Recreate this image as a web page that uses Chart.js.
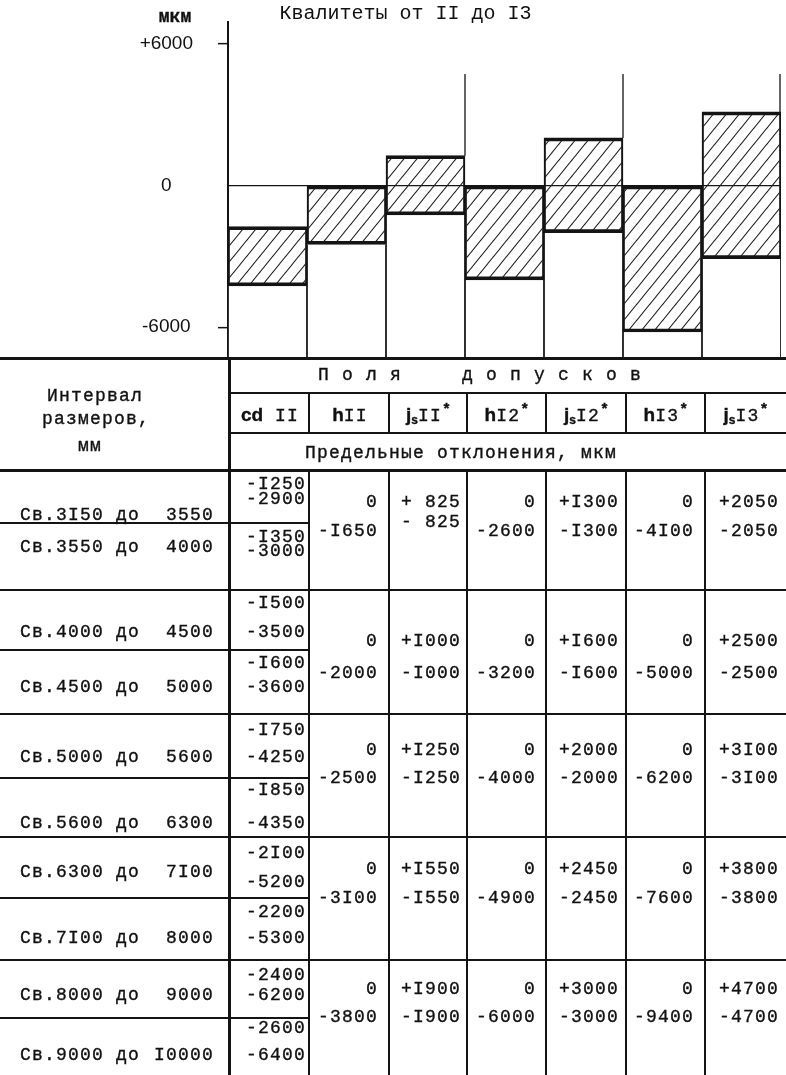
<!DOCTYPE html>
<html>
<head>
<meta charset="utf-8">
<script src="https://cdn.jsdelivr.net/npm/chart.js@4.4.1/dist/chart.umd.min.js"></script>
<style>
body { margin: 0; background: #fff; }
#page { position: relative; width: 786px; height: 1075px; overflow: hidden;
        font-family: "Liberation Mono", "DejaVu Sans Mono", monospace; font-size: 18px; color: #111; }
#chartBox { position: absolute; left: 0; top: 0; width: 786px; height: 360px; }
.t { position: absolute; white-space: pre; line-height: 20px; letter-spacing: 1.2px; -webkit-text-stroke: 0.35px #111; }
.ln { position: absolute; background: #141414; }
sub { font-size: 12px; vertical-align: -3px; letter-spacing: 0; }
sup { font-size: 15px; font-weight: bold; vertical-align: 7px; line-height: 0; }
.b { font-family: "Liberation Sans", Arial, sans-serif; font-weight: bold; font-size: 19px; letter-spacing: 0; }
sub.b { font-size: 12px; }
</style>
</head>
<body>
<div id="page">
  <div id="chartBox"><canvas id="grafica"></canvas></div>
</div>
<script>
// поля допусков (categories)
var fieldLetters = ['cd', 'h', 'js', 'h', 'js', 'h', 'js'];
var fieldGrades  = ['II', 'II', 'II', 'I2', 'I2', 'I3', 'I3'];
var fieldMarked  = [false, false, true, true, true, true, true];

// интервалы размеров, мм
var sizeFrom = ['3I50', '3550', '4000', '4500', '5000', '5600', '6300', '7I00', '8000', '9000'];
var sizeTo   = ['3550', '4000', '4500', '5000', '5600', '6300', '7I00', '8000', '9000', 'I0000'];

// cd11 - for every interval
var cdUpper = [-1250, -1350, -1500, -1600, -1750, -1850, -2100, -2200, -2400, -2600];
var cdLower = [-2900, -3000, -3500, -3600, -4250, -4350, -5200, -5300, -6200, -6400];

// the other fields - one value per pair of intervals
var h11Lower = [-1650, -2000, -2500, -3100, -3800];
var js11Dev  = [825, 1000, 1250, 1550, 1900];
var h12Lower = [-2600, -3200, -4000, -4900, -6000];
var js12Dev  = [1300, 1600, 2000, 2450, 3000];
var h13Lower = [-4100, -5000, -6200, -7600, -9400];
var js13Dev  = [2050, 2500, 3100, 3800, 4700];

var yTickValues = [-6000, 0, 6000];
var chartRow = 4;          // the diagram shows Св.5000 до 5600
var yMin = -7300, yMax = 6900;
var separatorTop = 4700;   // upper end of the thin lines between quality grades

// ---- chart -------------------------------------------------------------
var g = Math.floor(chartRow / 2);
var upper = [cdUpper[chartRow], 0, js11Dev[g], 0, js12Dev[g], 0, js13Dev[g]];
var lower = [cdLower[chartRow], h11Lower[g], -js11Dev[g], h12Lower[g], -js12Dev[g], h13Lower[g], -js13Dev[g]];
var labels = fieldLetters.map(function (l, i) { return l + fieldGrades[i]; });

function hatch() {
    var w = 13, h = 16;
    var c = document.createElement('canvas');
    c.width = w; c.height = h;
    var x = c.getContext('2d');
    x.strokeStyle = '#1a1a1a';
    x.lineWidth = 1.1;
    [-w, 0, w].forEach(function (o) {
        x.beginPath();
        x.moveTo(o - 1, h + h / w);
        x.lineTo(o + w + 1, -h / w);
        x.stroke();
    });
    return x.createPattern(c, 'repeat');
}

var separators = {
    id: 'separators',
    afterDatasetsDraw: function (chart) {
        var meta = chart.getDatasetMeta(0);
        var y = chart.scales.y;
        var c = chart.ctx;
        c.save();
        c.strokeStyle = '#141414';
        c.lineWidth = 1.3;
        [2, 4, 6].forEach(function (i) {
            var bar = meta.data[i];
            var x = Math.min(bar.x + bar.width / 2, chart.chartArea.right - 1);
            c.beginPath();
            c.moveTo(x, y.getPixelForValue(separatorTop));
            c.lineTo(x, Math.min(bar.y, bar.base));
            c.stroke();
        });
        c.restore();
    }
};

var ctx = document.getElementById('grafica').getContext('2d');
var myChart = new Chart(ctx, {
    type: 'bar',
    data: {
        labels: labels,
        datasets: [{
            label: 'поле допуска',
            data: lower.map(function (v, i) { return [v, upper[i]]; }),
            backgroundColor: hatch(),
            borderColor: '#141414',
            borderWidth: { top: 3, bottom: 3, left: 1.5, right: 1.5 },
            borderSkipped: false,
            grouped: false,
            order: 0
        }, {
            label: 'вал',
            data: lower.map(function (v) { return [yMin, v]; }),
            backgroundColor: '#fff',
            borderColor: '#141414',
            borderWidth: { top: 0, bottom: 0, left: 1.2, right: 1.2 },
            borderSkipped: false,
            grouped: false,
            order: 1
        }]
    },
    options: {
        responsive: true,
        maintainAspectRatio: false,
        animation: false,
        categoryPercentage: 1,
        barPercentage: 1,
        layout: { padding: { left: 30, right: 5, top: 0, bottom: 2 } },
        plugins: {
            legend: { display: false },
            tooltip: { enabled: false },
            title: {
                display: true,
                text: 'Квалитеты от II до I3',
                color: '#111',
                font: { family: 'Liberation Mono', size: 20, weight: 'normal', lineHeight: 0.8 },
                padding: { top: 6, bottom: 0 }
            }
        },
        scales: {
            x: { display: false },
            y: {
                min: yMin,
                max: yMax,
                afterFit: function (scale) {
                    scale.width = 198;
                    scale.paddingTop = 0;
                    scale.paddingBottom = 0;
                },
                afterBuildTicks: function (scale) {
                    scale.ticks = yTickValues.map(function (v) { return { value: v }; });
                },
                border: { display: true, color: '#141414', width: 2 },
                grid: {
                    color: function (c) { return c.tick && c.tick.value === 0 ? '#141414' : 'rgba(0,0,0,0)'; },
                    tickColor: function (c) { return c.tick && c.tick.value === 0 ? 'rgba(0,0,0,0)' : '#141414'; },
                    lineWidth: 1.3,
                    tickLength: 10,
                    tickWidth: 1.5
                },
                ticks: {
                    autoSkip: false,
                    crossAlign: 'center',
                    padding: 25,
                    color: '#111',
                    font: { family: 'Liberation Sans', size: 19 },
                    callback: function (v) { return v > 0 ? '+' + v : String(v); }
                }
            }
        }
    },
    plugins: [separators]
});

// ---- table -------------------------------------------------------------
var page = document.getElementById('page');
var colEdges = [229, 309, 389, 467, 546, 626, 705, 786];
var valueRight = [306, 378, 461, 536, 619, 694, 779];
var subRowY = [515, 547, 632, 687, 757, 823, 872, 938, 995, 1055];
var cdY = [[484, 499], [537, 551], [603, 632], [663, 687], [730, 757],
           [790, 823], [853, 882], [912, 938], [975, 995], [1028, 1055]];
var groupValY = [[502, 531], [641, 673], [750, 778], [869, 898], [989, 1017]];
var groupLineY = [590, 714, 837, 960];
var subLineY = [523, 650, 778, 898, 1018];

function fmt(v) {
    if (v === 0) return '0';
    var s = String(Math.abs(v));
    while (s.length < 4) s = ' ' + s;
    return (v > 0 ? '+' : '-') + s.replace(/1/g, 'I');
}

function txt(html, x, y, align, style) {
    var d = document.createElement('div');
    d.className = 't';
    var left = x, width = 400;
    if (align === 'right') left = x - width;
    if (align === 'center') left = x - width / 2;
    d.style.left = left + 'px';
    d.style.width = width + 'px';
    d.style.top = (y - 10) + 'px';
    d.style.textAlign = align || 'left';
    if (style) d.style.cssText += ';' + style;
    d.innerHTML = html;
    page.appendChild(d);
}

function hline(x1, x2, y, w) {
    var d = document.createElement('div');
    d.className = 'ln';
    d.style.left = x1 + 'px'; d.style.width = (x2 - x1) + 'px';
    d.style.top = (y - w / 2) + 'px'; d.style.height = w + 'px';
    page.appendChild(d);
}

function vline(x, y1, y2, w) {
    var d = document.createElement('div');
    d.className = 'ln';
    d.style.left = (x - w / 2) + 'px'; d.style.width = w + 'px';
    d.style.top = y1 + 'px'; d.style.height = (y2 - y1) + 'px';
    page.appendChild(d);
}

// unit of the axis
txt('мкм', 175, 17, 'center', 'font-weight:bold;font-size:18px;letter-spacing:0');

// rules
hline(0, 786, 358.5, 3);
vline(229.5, 357, 1075, 3);
hline(229, 786, 393, 1.5);
hline(229, 786, 433, 2);
hline(0, 786, 470, 3);
for (var i = 1; i < colEdges.length - 1; i++) {
    var w = i === 1 ? 2.5 : 1.5;
    vline(colEdges[i], 393, 433, w);
    vline(colEdges[i], 470, 1075, w);
}
groupLineY.forEach(function (y) { hline(0, 786, y, 2); });
subLineY.forEach(function (y) { hline(0, 309, y, 2); });

// header
txt('Интервал', 95, 396, 'center');
txt('размеров,', 96, 419, 'center');
txt('мм', 90, 446, 'center');
txt('Поля  допусков', 318, 375, 'left', 'letter-spacing:13.2px');
fieldLetters.forEach(function (l, i) {
    var letter = l === 'js' ? '<span class="b">j</span><sub class="b">s</sub>' : '<span class="b">' + l + '</span>';
    var html = letter + (l === 'cd' ? ' ' : '') + fieldGrades[i] + (fieldMarked[i] ? '<sup>*</sup>' : '');
    txt(html, (colEdges[i] + colEdges[i + 1]) / 2 + 1, 415, 'center');
});
txt('Предельные отклонения, мкм', 305, 453, 'left');

// rows of intervals
sizeFrom.forEach(function (f, r) {
    txt('Св.' + f + ' до', 20, subRowY[r], 'left');
    txt(sizeTo[r], 214, subRowY[r], 'right');
    txt(fmt(cdUpper[r]), valueRight[0], cdY[r][0], 'right');
    txt(fmt(cdLower[r]), valueRight[0], cdY[r][1], 'right');
});

// the other fields, per pair of intervals
var groupCols = [
    [function () { return 0; }, function (k) { return h11Lower[k]; }],
    [function (k) { return js11Dev[k]; }, function (k) { return -js11Dev[k]; }],
    [function () { return 0; }, function (k) { return h12Lower[k]; }],
    [function (k) { return js12Dev[k]; }, function (k) { return -js12Dev[k]; }],
    [function () { return 0; }, function (k) { return h13Lower[k]; }],
    [function (k) { return js13Dev[k]; }, function (k) { return -js13Dev[k]; }]
];
groupValY.forEach(function (ys, k) {
    groupCols.forEach(function (col, c) {
        txt(fmt(col[0](k)), valueRight[c + 1], ys[0], 'right');
        // the js11 pair of the first row is typed close together
        var yb = (k === 0 && c === 1) ? ys[1] - 9 : ys[1];
        txt(fmt(col[1](k)), valueRight[c + 1], yb, 'right');
    });
});
</script>
</body>
</html>
